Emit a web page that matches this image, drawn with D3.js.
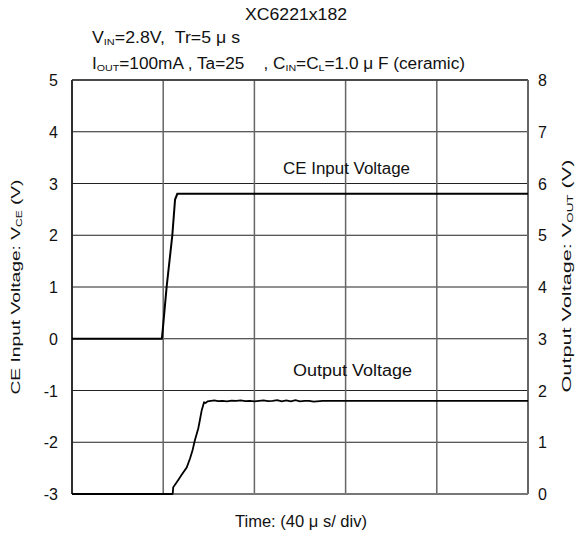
<!DOCTYPE html>
<html>
<head>
<meta charset="utf-8">
<script src="https://cdn.jsdelivr.net/npm/d3@7"></script>
<style>
  body { margin: 0; background: #fff; }
  text { font-family: "Liberation Sans", Arial, sans-serif; fill: #111; }
</style>
</head>
<body>
<svg id="viz"></svg>
<script>
const svg = d3.select("#viz");

svg.attr("width", 582).attr("height", 536);

// Data (time in µs, 40 µs/div)
const ceTime = [0, 39.4, 39.8, 41.5, 44.0, 45.2, 46.2, 200];
const ceVolt = [0, 0, 0.17, 1.0, 2.0, 2.69, 2.8, 2.8];

const outTime = [0, 44.0, 44.2, 44.4, 46.6, 48.1, 50.3, 51.8, 52.9, 53.9, 55.4, 56.1, 56.9, 57.9,
  58.6, 59.5, 61, 62.5, 64, 66, 68, 70, 72, 74, 76, 78, 80, 82, 84, 86, 88, 90, 92, 94, 96, 98,
  100, 102, 104, 106, 110, 200];
const outVolt = [0, 0, 0.02, 0.13, 0.27, 0.37, 0.51, 0.69, 0.85, 1.04, 1.27, 1.43, 1.62, 1.77,
  1.76, 1.79, 1.80, 1.81, 1.795, 1.80, 1.79, 1.805, 1.80, 1.81, 1.795, 1.80, 1.79, 1.80, 1.81,
  1.795, 1.80, 1.815, 1.79, 1.81, 1.79, 1.815, 1.79, 1.80, 1.80, 1.785, 1.80, 1.80];

const leftTicks = [-3, -2, -1, 0, 1, 2, 3, 4, 5];
const rightTicks = [0, 1, 2, 3, 4, 5, 6, 7, 8];
const timeTicks = [0, 40, 80, 120, 160, 200];

const plotL = 72, plotT = 80, plotR = 528, plotB = 494;

const x = d3.scaleLinear().domain([0, 200]).range([plotL, plotR]);
const yL = d3.scaleLinear().domain([-3, 5]).range([plotB, plotT]);
const yR = d3.scaleLinear().domain([0, 8]).range([plotB, plotT]);

// grid
svg.append("g").selectAll("line")
  .data(leftTicks)
  .enter()
  .append("line")
  .attr("x1", plotL).attr("x2", plotR)
  .attr("y1", d => yL(d)).attr("y2", d => yL(d))
  .attr("stroke", "#222")
  .attr("stroke-width", 1);

svg.append("g").selectAll("line")
  .data(timeTicks)
  .enter()
  .append("line")
  .attr("x1", d => x(d)).attr("x2", d => x(d))
  .attr("y1", plotT).attr("y2", plotB)
  .attr("stroke", "#666")
  .attr("stroke-width", 1.5);

// frame
svg.append("line").attr("x1", plotL).attr("x2", plotL).attr("y1", plotT).attr("y2", plotB)
  .attr("stroke", "#111").attr("stroke-width", 1.5);
svg.append("line").attr("x1", plotL).attr("x2", plotR).attr("y1", plotT).attr("y2", plotT)
  .attr("stroke", "#333").attr("stroke-width", 1.5);
svg.append("line").attr("x1", plotR).attr("x2", plotR).attr("y1", plotT).attr("y2", plotB)
  .attr("stroke", "#666").attr("stroke-width", 2);
svg.append("line").attr("x1", plotL).attr("x2", plotR).attr("y1", plotB).attr("y2", plotB)
  .attr("stroke", "#777").attr("stroke-width", 2);

// tick labels
svg.append("g").selectAll("text")
  .data(leftTicks)
  .enter()
  .append("text")
  .attr("x", 58)
  .attr("y", d => yL(d) + 6)
  .attr("text-anchor", "end")
  .attr("font-size", 16)
  .text(d => d < 0 ? "-" + Math.abs(d) : d);

svg.append("g").selectAll("text")
  .data(rightTicks)
  .enter()
  .append("text")
  .attr("x", 538)
  .attr("y", d => yR(d) + 6)
  .attr("font-size", 16)
  .text(d => d);

// traces
const ceLine = d3.line().x(d => x(d[0])).y(d => yL(d[1]));
const outLine = d3.line().x(d => x(d[0])).y(d => yR(d[1]));

svg.append("path")
  .datum(d3.zip(ceTime, ceVolt))
  .attr("d", ceLine)
  .attr("fill", "none")
  .attr("stroke", "#000")
  .attr("stroke-width", 2);

svg.append("path")
  .datum(d3.zip(outTime, outVolt))
  .attr("d", outLine)
  .attr("fill", "none")
  .attr("stroke", "#000")
  .attr("stroke-width", 1.8);

// helper for text with subscripts: parts = [[text, isSub], ...]
function richText(g, px, py, parts, size, len, anchor) {
  const t = g.append("text").attr("x", px).attr("y", py).attr("font-size", size);
  if (anchor) t.attr("text-anchor", anchor);
  let wasSub = false;
  parts.forEach(p => {
    const s = t.append("tspan").text(p[0]);
    if (p[1]) { s.attr("font-size", size * 0.62).attr("dy", 2); wasSub = true; }
    else if (wasSub) { s.attr("dy", -2); wasSub = false; }
  });
  if (len) t.attr("textLength", len).attr("lengthAdjust", "spacingAndGlyphs");
  return t;
}

// labels
richText(svg, 283, 174, [["CE Input Voltage"]], 16, 127);
richText(svg, 293, 376, [["Output Voltage"]], 16, 119);

richText(svg, 245, 20, [["XC6221x182"]], 16, 102);

const sp = "\u00a0";
richText(svg, 92, 43, [["V"], ["IN", 1], ["=2.8V," + sp + sp + "Tr=5 \u03bc s"]], 16, 148);
richText(svg, 92, 69, [["I"], ["OUT", 1], ["=100mA , Ta=25" + sp + sp + sp + sp + ", C"], ["IN", 1], ["=C"], ["L", 1],
  ["=1.0 \u03bc F (ceramic)"]], 16, 373);

richText(svg, 235, 527, [["Time: (40 \u03bc s/ div)"]], 16, 132);

const lt = richText(svg, 0, 0, [["CE Input Voltage: V"], ["CE", 1], [" (V)"]], 13.5, 215, "middle");
lt.attr("transform", "translate(20,287) rotate(-90)");
const rt = richText(svg, 0, 0, [["Output Voltage: V"], ["OUT", 1], [" (V)"]], 13.5, 233, "middle");
rt.attr("transform", "translate(571,276) rotate(-90)");
</script>
</body>
</html>
